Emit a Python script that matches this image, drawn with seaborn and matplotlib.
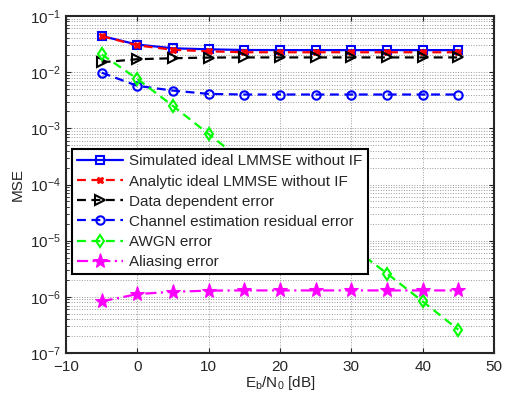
import numpy as np
import pandas as pd
import matplotlib
matplotlib.use("Agg")
import matplotlib.pyplot as plt
import seaborn as sns

# Data
snr = [-5, 0, 5, 10, 15, 20, 25, 30, 35, 40, 45]
simulated = [0.044, 0.031, 0.0266, 0.0255, 0.0248, 0.0247, 0.0247, 0.0247, 0.0247, 0.0247, 0.0247]
analytic = [0.044, 0.030, 0.025, 0.0235, 0.0226, 0.0226, 0.0226, 0.0226, 0.0226, 0.0226, 0.0226]
data_dep = [0.015, 0.017, 0.0177, 0.0182, 0.0183, 0.0183, 0.0183, 0.0183, 0.0183, 0.0183, 0.0183]
channel = [0.0098, 0.0057, 0.0047, 0.0041, 0.0040, 0.0040, 0.0040, 0.0040, 0.0040, 0.0040, 0.0040]
awgn = [0.0207, 0.0076, 0.0025, 0.00079, 2.5e-4, 7.9e-5, 2.5e-5, 7.9e-6, 2.6e-6, 8.3e-7, 2.6e-7]
aliasing = [8.3e-7, 1.12e-6, 1.23e-6, 1.29e-6, 1.3e-6, 1.3e-6, 1.3e-6, 1.3e-6, 1.3e-6, 1.3e-6, 1.3e-6]

labels = ['Simulated ideal LMMSE without IF', 'Analytic ideal LMMSE without IF',
          'Data dependent error', 'Channel estimation residual error',
          'AWGN error', 'Aliasing error']

sns.set_style("ticks")
plt.rcParams['font.family'] = ['Liberation Sans', 'DejaVu Sans']
plt.rcParams['mathtext.fontset'] = 'custom'
plt.rcParams['mathtext.rm'] = 'Liberation Sans'

fig = plt.figure(figsize=(5.1, 3.96), dpi=100)
ax = fig.add_axes([66 / 510, 1 - 353 / 396, 428 / 510, 337 / 396])

lw = 1.6
dash = (0, (4, 2.5))
sns.lineplot(x=snr, y=simulated, ax=ax, color='#0000ff', lw=lw, marker='s', ms=6,
             markerfacecolor='none', markeredgecolor='#0000ff', mew=1.5, label=labels[0])
sns.lineplot(x=snr, y=analytic, ax=ax, color='#ff0000', lw=lw, ls=dash, marker='X', ms=5,
             markeredgecolor='#ff0000', label=labels[1])
sns.lineplot(x=snr, y=data_dep, ax=ax, color='black', lw=lw, ls=dash, marker='>', ms=7,
             markerfacecolor='none', markeredgecolor='black', mew=1.5, label=labels[2])
sns.lineplot(x=snr, y=channel, ax=ax, color='#0000ff', lw=lw, ls=dash, marker='o', ms=6,
             markerfacecolor='none', markeredgecolor='#0000ff', mew=1.5, label=labels[3])
sns.lineplot(x=snr, y=awgn, ax=ax, color='#00ff00', lw=lw, ls=dash, marker='d', ms=6,
             markerfacecolor='none', markeredgecolor='#00ff00', mew=1.5, label=labels[4])
sns.lineplot(x=snr, y=aliasing, ax=ax, color='#ff00ff', lw=lw, ls=(0, (5, 2, 1, 2)), marker='*', ms=11,
             markeredgecolor='#ff00ff', label=labels[5])

ax.set_yscale('log')
ax.set_xlim(-10, 50)
ax.set_ylim(1e-7, 1e-1)
ax.set_xticks([-10, 0, 10, 20, 30, 40, 50])
ax.set_xticklabels(['\u221210', '0', '10', '20', '30', '40', '50'])
ax.tick_params(direction='in', which='both', labelsize=11, top=True, right=True)
ax.tick_params(axis='x', pad=5)
ax.grid(True, which='major', ls=':', color='#999999', lw=0.7)
ax.grid(True, which='minor', axis='y', ls=':', color='#999999', lw=0.7)
for s in ax.spines.values():
    s.set_linewidth(1.5)

ax.set_ylabel('MSE', fontsize=11)
ax.set_xlabel(r'E$_\mathregular{b}$/N$_\mathregular{0}$ [dB]', fontsize=11, labelpad=0)

leg = ax.legend(loc='upper left', bbox_to_anchor=(0.014, 0.605), fontsize=11, frameon=True,
                fancybox=False, edgecolor='black', framealpha=1, handlelength=3,
                labelspacing=0.4, borderpad=0.35, handletextpad=0.4, borderaxespad=0)
leg.get_frame().set_linewidth(1.5)

fig.savefig('out.png', dpi=100)
